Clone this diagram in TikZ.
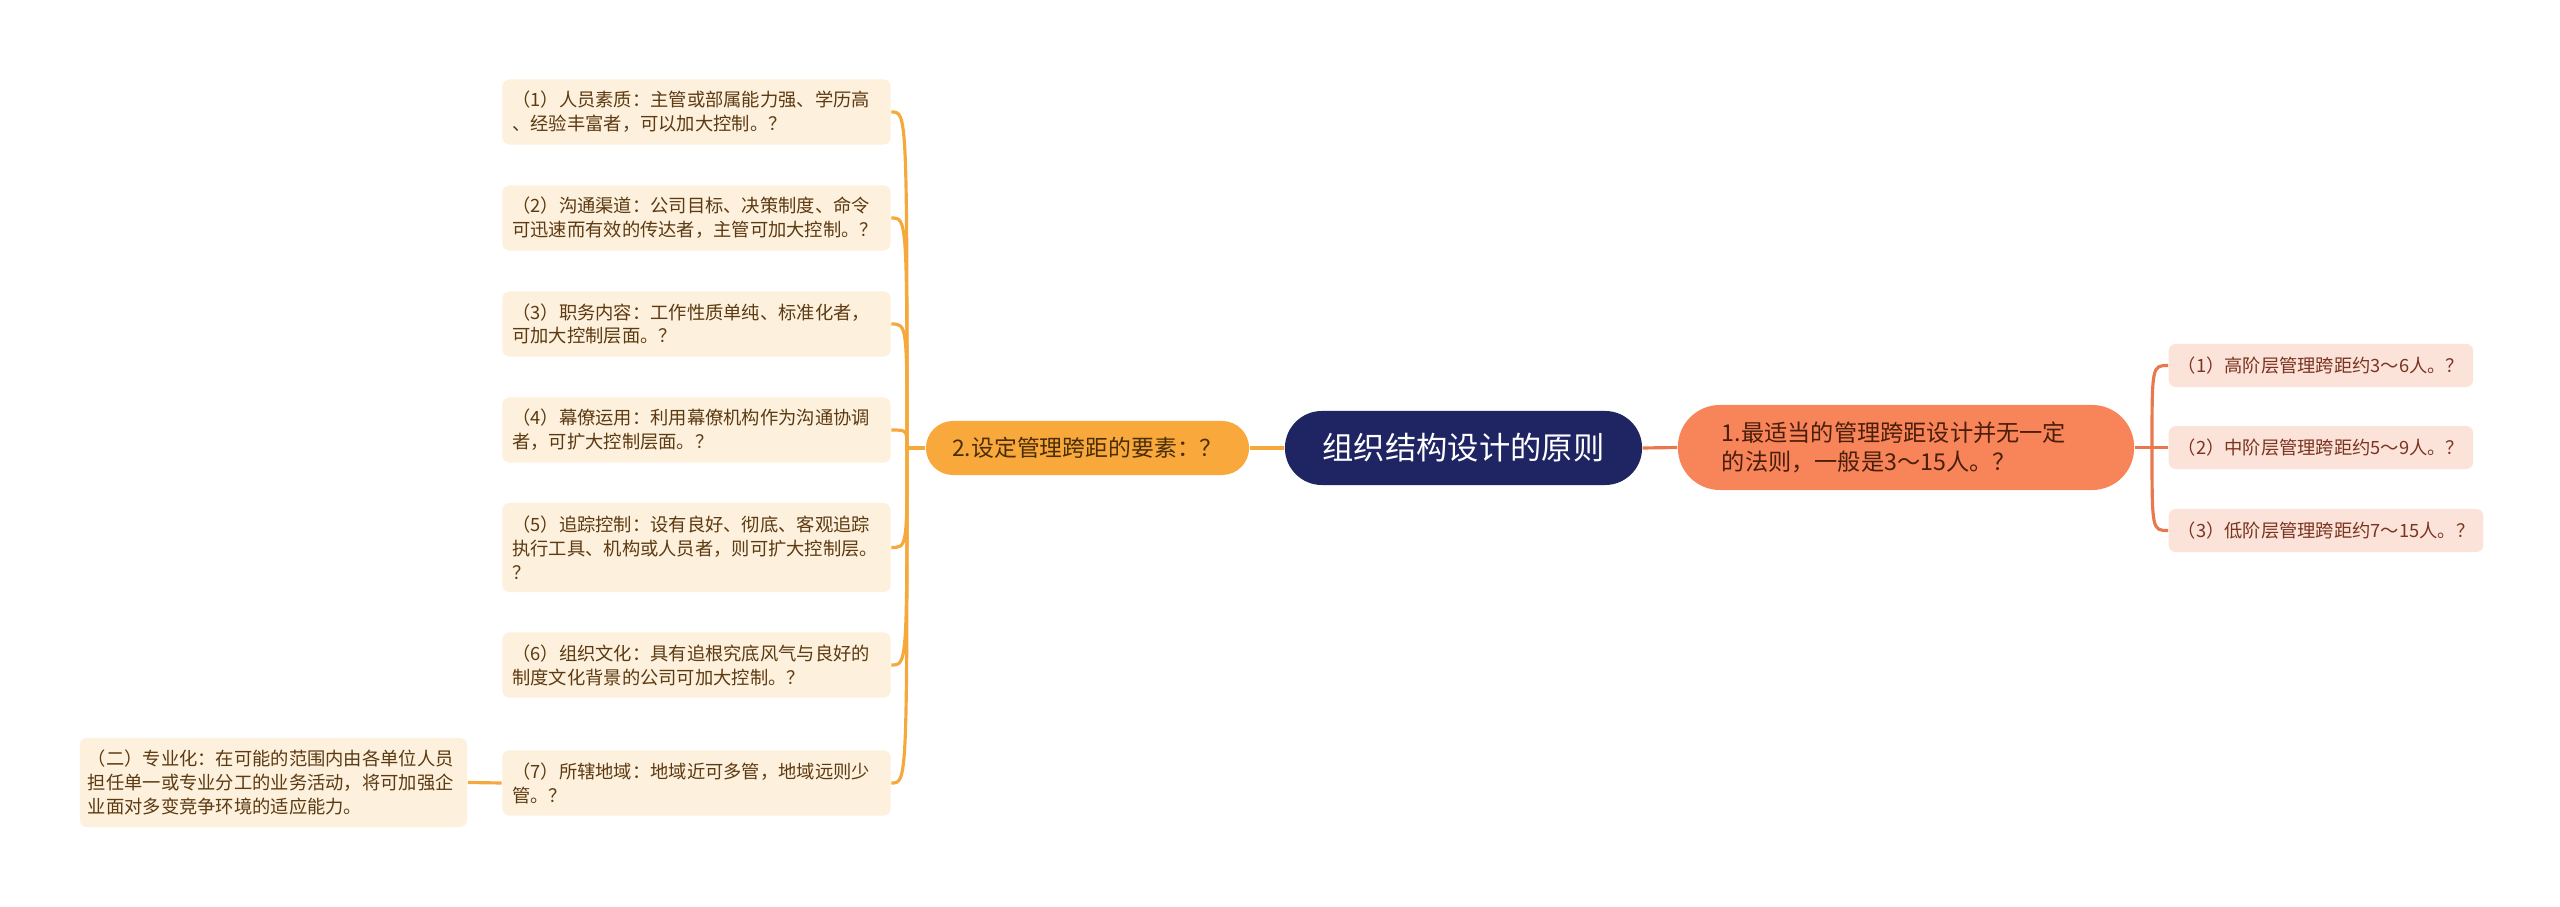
\documentclass[tikz,border=0pt]{standalone}
\usepackage{fontspec}
\newfontfamily\cjk{Noto Sans CJK SC}
\definecolor{rootfill}{HTML}{1F2463}
\definecolor{factfill}{HTML}{F9A93B}
\definecolor{facttext}{HTML}{4A2E0A}
\definecolor{leaffill}{HTML}{FDF0DC}
\definecolor{leaftext}{HTML}{5C3A12}
\definecolor{spanfill}{HTML}{F8845A}
\definecolor{spantext}{HTML}{4A1E0A}
\definecolor{rleaffill}{HTML}{FCE3DA}
\definecolor{rleaftext}{HTML}{7A3420}
\definecolor{oline}{HTML}{F5A93C}
\definecolor{rline}{HTML}{E8784E}

\begin{document}
\begin{tikzpicture}[
    x=0.01cm, y=-0.01cm,
    every node/.style={font=\cjk, inner sep=0pt},
    root/.style={rectangle, rounded corners=0.37cm, fill=rootfill, text=white,
        minimum width=3.57cm, minimum height=0.74cm,
        font=\cjk\fontsize{8.9}{10}\selectfont},
    fact/.style={rectangle, rounded corners=0.27cm, fill=factfill, text=facttext,
        minimum width=3.23cm, minimum height=0.54cm,
        font=\cjk\fontsize{6.5}{8}\selectfont},
    span/.style={rectangle, rounded corners=0.42cm, fill=spanfill, text=spantext,
        text width=3.68cm, inner xsep=0.44cm, minimum height=0.85cm, align=left,
        font=\cjk\fontsize{6.6}{8.2}\selectfont},
    leaf/.style={rectangle, rounded corners=0.07cm, fill=leaffill, text=leaftext,
        text width=3.68cm, inner xsep=0.1cm, minimum height=0.65cm, align=left,
        font=\cjk\fontsize{5.2}{6.8}\selectfont},
    rleaf/.style={rectangle, rounded corners=0.07cm, fill=rleaffill, text=rleaftext,
        inner xsep=0.09cm, minimum height=0.43cm, anchor=west,
        font=\cjk\fontsize{5.2}{6.8}\selectfont},
    ol/.style={oline, line width=0.9pt},
    rl/.style={rline, line width=0.9pt},
]
\useasboundingbox (0,0) rectangle (2560,907);

% ============================================================ the centre
\node[root] (root) at (1463.5, 448) {组织结构设计的原则};

% ============================================================ left branch
\node[fact] (fact) at (1087.5, 448) {2.设定管理跨距的要素：？};

\node[leaf] (f1) at (696.5, 112) {（1）人员素质：主管或部属能力强、学历高\\、经验丰富者，可以加大控制。？};
\node[leaf] (f2) at (696.5, 218) {（2）沟通渠道：公司目标、决策制度、命令\\可迅速而有效的传达者，主管可加大控制。？};
\node[leaf] (f3) at (696.5, 324) {（3）职务内容：工作性质单纯、标准化者，\\可加大控制层面。？};
\node[leaf] (f4) at (696.5, 430) {（4）幕僚运用：利用幕僚机构作为沟通协调\\者，可扩大控制层面。？};
\node[leaf, minimum height=0.89cm] (f5) at (696.5, 547.5) {（5）追踪控制：设有良好、彻底、客观追踪\\执行工具、机构或人员者，则可扩大控制层。\\？};
\node[leaf] (f6) at (696.5, 665) {（6）组织文化：具有追根究底风气与良好的\\制度文化背景的公司可加大控制。？};
\node[leaf] (f7) at (696.5, 783) {（7）所辖地域：地域近可多管，地域远则少\\管。？};

\node[leaf, minimum height=0.89cm, text width=3.71cm, inner xsep=0.08cm] (spec) at (273.5, 782.5)
    {（二）专业化：在可能的范围内由各单位人员\\担任单一或专业分工的业务活动，将可加强企\\业面对多变竞争环境的适应能力。};

\coordinate (lj) at (907, 448);
\draw[ol] (root.west) -- (fact.east);
\draw[ol] (fact.west) -- (lj);
\foreach \n in {f1, f2, f3, f4, f5, f6, f7}{
    \draw[ol] (\n.east) .. controls (lj |- \n.east) .. (lj);
}
\draw[ol] (spec.east) -- (f7.west);

% ============================================================ right branch
\node[span] (span) at (1906, 447.5) {1.最适当的管理跨距设计并无一定\\的法则，一般是3～15人。？};

\node[rleaf] (r1) at (2168, 365.5) {（1）高阶层管理跨距约3～6人。？};
\node[rleaf] (r2) at (2168, 447.5) {（2）中阶层管理跨距约5～9人。？};
\node[rleaf] (r3) at (2168, 530.5) {（3）低阶层管理跨距约7～15人。？};

\coordinate (rj) at (2152, 447.5);
\draw[rl] (root.east) -- (span.west);
\draw[rl] (span.east) -- (rj);
\foreach \n in {r1, r2, r3}{
    \draw[rl] (rj) .. controls (rj |- \n.west) and (rj |- \n.west) .. (\n.west);
}

\end{tikzpicture}
\end{document}
